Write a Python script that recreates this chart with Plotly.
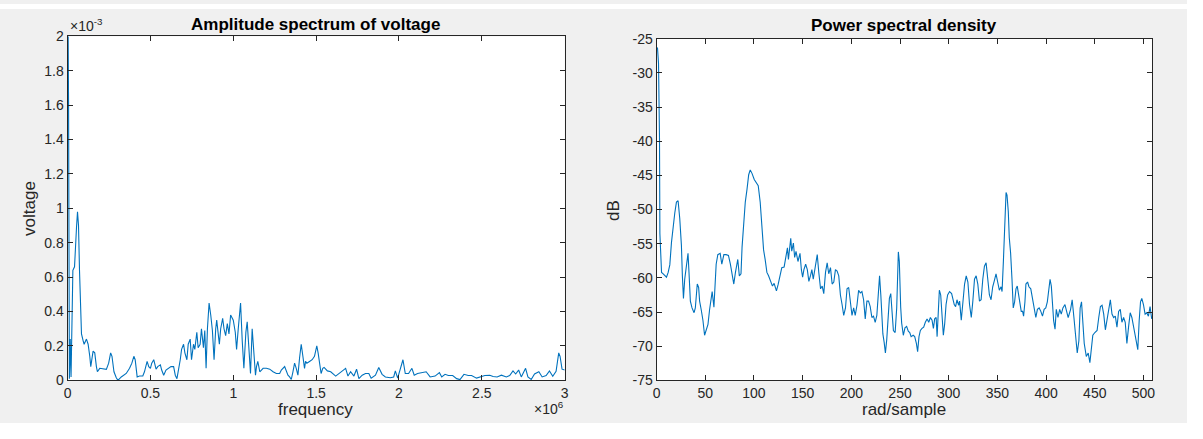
import plotly.graph_objects as go

# ---------------- data: amplitude spectrum (x in 1e6 Hz, y in 1e-3 V) ----------------
amp_freq = [0.000, 0.006, 0.011, 0.016, 0.021, 0.026, 0.032, 0.042, 0.048, 0.054,
            0.060, 0.066, 0.072, 0.078, 0.084, 0.094, 0.100, 0.114, 0.124, 0.134,
            0.140, 0.154, 0.164, 0.174, 0.180, 0.194, 0.214, 0.234, 0.248, 0.260,
            0.268, 0.280, 0.294, 0.304, 0.324, 0.354, 0.374, 0.388, 0.400, 0.408,
            0.420, 0.434, 0.454, 0.464, 0.480, 0.490, 0.500, 0.508, 0.520, 0.534,
            0.544, 0.560, 0.568, 0.580, 0.594, 0.624, 0.640, 0.650, 0.660, 0.668,
            0.680, 0.688, 0.700, 0.708, 0.720, 0.728, 0.740, 0.748, 0.760, 0.768,
            0.774, 0.780, 0.788, 0.800, 0.808, 0.820, 0.828, 0.836, 0.844, 0.854,
            0.864, 0.874, 0.884, 0.888, 0.894, 0.900, 0.908, 0.916, 0.924, 0.936,
            0.944, 0.954, 0.964, 0.974, 0.984, 1.000, 1.012, 1.020, 1.030, 1.036,
            1.044, 1.054, 1.064, 1.076, 1.084, 1.094, 1.104, 1.114, 1.124, 1.134,
            1.140, 1.148, 1.160, 1.180, 1.200, 1.220, 1.240, 1.260, 1.280, 1.290,
            1.310, 1.320, 1.330, 1.340, 1.350, 1.360, 1.370, 1.380, 1.390, 1.400,
            1.410, 1.420, 1.430, 1.436, 1.444, 1.460, 1.476, 1.490, 1.504, 1.512,
            1.520, 1.530, 1.540, 1.548, 1.568, 1.588, 1.618, 1.648, 1.678, 1.692,
            1.708, 1.728, 1.744, 1.758, 1.778, 1.798, 1.818, 1.832, 1.858, 1.878,
            1.898, 1.918, 1.948, 1.968, 1.978, 1.992, 2.004, 2.024, 2.038, 2.058,
            2.078, 2.092, 2.112, 2.138, 2.164, 2.188, 2.218, 2.244, 2.258, 2.278,
            2.298, 2.324, 2.348, 2.368, 2.392, 2.418, 2.438, 2.468, 2.488, 2.518,
            2.548, 2.568, 2.592, 2.618, 2.648, 2.668, 2.688, 2.704, 2.722, 2.738,
            2.764, 2.778, 2.798, 2.818, 2.844, 2.864, 2.888, 2.908, 2.928, 2.948,
            2.964, 2.972, 2.984, 3.000]
amp_volt = [2.60, 1.62, 0.01, 0.24, 0.02, 0.46, 0.64, 0.66, 0.81, 0.89,
            0.98, 0.90, 0.64, 0.42, 0.27, 0.23, 0.21, 0.24, 0.21, 0.14,
            0.08, 0.17, 0.16, 0.08, 0.05, 0.07, 0.065, 0.064, 0.10, 0.16,
            0.14, 0.05, 0.015, 0.00, 0.02, 0.04, 0.07, 0.10, 0.14, 0.12,
            0.02, 0.025, 0.025, 0.05, 0.11, 0.08, 0.07, 0.10, 0.12, 0.065,
            0.08, 0.09, 0.06, 0.03, 0.06, 0.08, 0.08, 0.03, 0.01, 0.05,
            0.12, 0.18, 0.21, 0.16, 0.12, 0.21, 0.24, 0.12, 0.21, 0.18,
            0.23, 0.28, 0.19, 0.21, 0.30, 0.19, 0.29, 0.07, 0.30, 0.45,
            0.38, 0.29, 0.12, 0.21, 0.30, 0.35, 0.27, 0.21, 0.30, 0.36,
            0.30, 0.26, 0.33, 0.27, 0.38, 0.35, 0.28, 0.18, 0.30, 0.38,
            0.45, 0.23, 0.07, 0.28, 0.34, 0.19, 0.04, 0.30, 0.16, 0.03,
            0.08, 0.11, 0.05, 0.07, 0.07, 0.065, 0.05, 0.04, 0.04, 0.06,
            0.08, 0.05, 0.03, 0.02, 0.005, 0.05, 0.10, 0.07, 0.03, 0.13,
            0.21, 0.14, 0.07, 0.11, 0.10, 0.11, 0.12, 0.14, 0.20, 0.16,
            0.10, 0.04, 0.07, 0.075, 0.055, 0.05, 0.025, 0.05, 0.07, 0.025,
            0.05, 0.025, 0.065, 0.01, 0.03, 0.04, 0.04, 0.013, 0.03, 0.075,
            0.035, 0.02, 0.015, 0.02, 0.055, 0.013, 0.05, 0.12, 0.04, 0.04,
            0.07, 0.03, 0.04, 0.045, 0.05, 0.02, 0.025, 0.045, 0.02, 0.035,
            0.028, 0.028, 0.01, 0.005, 0.035, 0.028, 0.028, 0.013, 0.02, 0.028,
            0.03, 0.022, 0.02, 0.03, 0.02, 0.028, 0.055, 0.037, 0.06, 0.02,
            0.07, 0.02, 0.005, 0.037, 0.05, 0.02, 0.028, 0.055, 0.024, 0.052,
            0.16, 0.14, 0.065, 0.06]

# ---------------- data: power spectral density ----------------
psd_x = [0, 1, 2, 3, 3.4, 5.1, 6.8, 10.2, 11.9, 13.6,
         15.3, 17.0, 18.7, 20.4, 22.1, 23.8, 25.5, 26.5, 27.6, 28.9,
         30.6, 32.3, 33.3, 34.7, 36.4, 38.5, 39.8, 41.8, 43.2, 44.2,
         45.9, 47.6, 49.3, 51.0, 52.8, 54.4, 56.1, 57.1, 58.9, 60.2,
         61.2, 62.9, 65.3, 67.0, 69.1, 71.4, 73.8, 75.8, 77.6, 79.3,
         81.0, 83.4, 85.0, 86.7, 87.8, 89.5, 91.1, 92.9, 94.6, 96.2,
         98.0, 100.3, 102.0, 104.4, 106.4, 108.2, 109.9, 111.5, 113.3, 115.0,
         117.3, 119.0, 120.7, 123.1, 124.8, 126.9, 128.6, 131.0, 132.7, 134.4,
         135.4, 136.7, 137.8, 138.8, 140.5, 141.8, 143.2, 145.2, 147.3, 148.7,
         150.0, 151.3, 153.1, 154.8, 156.4, 158.2, 159.5, 160.9, 162.2, 163.6,
         165.0, 166.6, 168.4, 170.1, 171.7, 173.5, 175.2, 176.8, 178.6, 180.3,
         182.0, 183.7, 185.4, 187.1, 188.8, 190.5, 192.2, 194.0, 195.6, 197.3,
         199.0, 200.7, 202.4, 204.0, 205.8, 207.5, 209.2, 210.9, 212.6, 214.3,
         216.0, 217.7, 219.4, 221.1, 222.8, 224.5, 226.2, 228.0, 229.0, 230.3,
         231.3, 232.4, 233.7, 235.0, 236.4, 238.0, 239.1, 240.5, 241.5, 243.2,
         245.0, 246.6, 248.3, 249.3, 250.7, 251.7, 253.4, 255.1, 256.8, 258.5,
         260.0, 261.4, 263.5, 265.1, 266.8, 268.1, 269.5, 270.9, 272.6, 274.3,
         276.0, 277.8, 279.5, 281.2, 282.9, 284.3, 285.6, 287.1, 288.1, 289.4,
         290.4, 291.8, 293.2, 294.5, 295.9, 297.3, 298.9, 300.9, 303.0, 304.4,
         305.7, 307.1, 308.5, 310.2, 311.2, 312.9, 314.6, 316.3, 318.0, 319.7,
         321.4, 323.2, 324.8, 326.5, 328.2, 329.9, 331.6, 333.3, 335.0, 336.7,
         338.4, 340.1, 341.8, 343.5, 345.2, 346.9, 348.6, 350.3, 352.0, 353.8,
         354.8, 356.1, 357.1, 358.2, 358.9, 359.9, 361.2, 362.2, 363.6, 365.0,
         366.3, 367.7, 369.1, 370.4, 371.8, 373.2, 374.5, 375.9, 376.9, 378.3,
         379.3, 381.0, 382.4, 384.3, 386.0, 387.8, 389.5, 391.1, 392.9, 394.6,
         396.3, 398.0, 399.7, 401.3, 403.1, 404.1, 405.4, 406.4, 407.8, 409.2,
         410.5, 412.2, 414.0, 415.6, 417.3, 419.4, 421.1, 422.7, 425.2, 426.8,
         428.6, 430.3, 432.0, 433.7, 435.0, 436.4, 437.8, 439.2, 441.3, 443.3,
         445.0, 446.7, 448.0, 450.1, 452.4, 454.1, 455.8, 457.5, 459.2, 460.9,
         462.6, 464.3, 466.0, 467.7, 469.4, 471.1, 472.8, 474.5, 476.2, 477.9,
         479.6, 481.3, 483.0, 484.7, 486.4, 488.1, 489.8, 491.5, 493.2, 494.2,
         495.6, 497.0, 498.3, 500.0, 501.7, 503.4, 505.1, 506.8, 507.8, 508.5]
psd_db = [-26.2, -26.4, -28.6, -39.5, -53.5, -59.2, -59.4, -59.9, -59.2, -58.1,
          -54.8, -52.1, -50.5, -48.9, -48.7, -51.3, -55.2, -59.7, -63.0, -60.2,
          -57.8, -56.4, -59.2, -63.4, -64.4, -65.1, -64.4, -60.9, -61.4, -63.4,
          -64.7, -66.2, -68.4, -67.5, -66.8, -64.7, -63.0, -62.0, -64.3, -61.2,
          -58.0, -56.6, -56.4, -58.0, -56.6, -56.6, -56.7, -58.0, -59.4, -60.9,
          -59.2, -57.3, -59.7, -59.4, -55.5, -51.3, -48.9, -47.0, -44.9, -44.2,
          -44.7, -45.6, -46.0, -46.5, -48.9, -52.1, -55.9, -57.3, -59.2, -59.7,
          -60.5, -61.2, -60.8, -61.9, -61.0, -59.4, -58.5, -58.4, -56.8, -55.6,
          -57.3, -55.9, -54.2, -56.1, -54.9, -57.0, -56.1, -57.6, -56.4, -58.8,
          -59.9, -58.8, -58.0, -58.8, -60.5, -59.6, -58.8, -60.2, -58.8, -57.8,
          -56.6, -59.2, -61.6, -61.2, -62.3, -59.2, -57.8, -59.4, -58.5, -60.9,
          -60.6, -58.8, -59.0, -59.7, -62.5, -63.9, -65.5, -64.4, -61.6, -61.4,
          -63.4, -65.5, -64.4, -65.5, -64.0, -61.8, -62.2, -62.0, -63.2, -66.0,
          -63.4, -63.4, -64.2, -65.8, -65.6, -66.5, -65.5, -61.8, -59.7, -62.5,
          -65.8, -68.2, -69.4, -71.0, -69.0, -66.2, -63.0, -62.3, -64.4, -67.7,
          -68.0, -64.4, -56.2, -57.6, -64.3, -66.6, -68.4, -67.3, -67.1, -67.8,
          -68.0, -68.6, -68.4, -68.6, -69.6, -70.8, -68.6, -67.7, -67.4, -67.2,
          -66.5, -66.0, -66.5, -65.8, -66.2, -67.4, -66.0, -65.8, -68.6, -65.3,
          -61.8, -62.5, -65.3, -68.4, -66.7, -63.9, -62.5, -62.0, -62.3, -63.0,
          -63.9, -64.2, -63.2, -64.0, -63.4, -66.2, -63.4, -60.9, -59.7, -60.6,
          -63.9, -65.8, -63.4, -60.2, -59.7, -60.9, -63.4, -63.2, -60.2, -58.3,
          -57.8, -60.2, -62.5, -63.2, -61.3, -60.4, -59.4, -60.6, -61.8, -61.3,
          -62.0, -57.8, -54.9, -50.3, -47.5, -47.9, -50.3, -54.1, -56.4, -60.2,
          -64.4, -63.5, -61.6, -61.2, -62.3, -63.9, -64.9, -64.9, -65.6, -63.5,
          -60.9, -60.6, -61.3, -61.6, -62.8, -64.4, -65.8, -64.6, -64.4, -64.9,
          -65.6, -64.6, -64.4, -63.5, -61.6, -60.2, -61.2, -64.0, -66.3, -67.5,
          -64.6, -65.8, -64.6, -65.3, -64.4, -63.9, -64.9, -65.8, -64.6, -63.2,
          -65.8, -68.2, -71.0, -69.2, -64.4, -63.5, -66.3, -69.6, -71.5, -71.0,
          -72.4, -69.6, -68.4, -68.0, -67.7, -65.8, -64.2, -64.0, -65.3, -67.6,
          -66.2, -64.9, -63.2, -65.3, -65.8, -65.6, -67.2, -64.9, -64.6, -66.5,
          -65.8, -66.5, -69.6, -67.2, -65.1, -65.8, -67.2, -68.6, -69.6, -70.5,
          -66.3, -63.5, -63.0, -63.9, -65.3, -65.1, -65.6, -64.2, -65.3, -66.0]

amp_xticks = [0, 0.5, 1, 1.5, 2, 2.5, 3]
amp_xticktext = ["0", "0.5", "1", "1.5", "2", "2.5", "3"]
amp_yticks = [0, 0.2, 0.4, 0.6, 0.8, 1.0, 1.2, 1.4, 1.6, 1.8, 2.0]
amp_yticktext = ["0", "0.2", "0.4", "0.6", "0.8", "1", "1.2", "1.4", "1.6", "1.8", "2"]
psd_xticks = [0, 50, 100, 150, 200, 250, 300, 350, 400, 450, 500]
psd_yticks = [-75, -70, -65, -60, -55, -50, -45, -40, -35, -30, -25]
psd_yticktext = ["-75", "-70", "-65", "-60", "-55", "-50", "-45", "-40", "-35", "-30", "-25"]

# ---------------- layout helpers ----------------
# The page keeps an 8px body margin, so the figure is sized to fit inside it
# and positions are given in window pixels (offset by that margin).
OFF = 8
W, H = 1203 - 2 * OFF, 439 - 2 * OFF
FONT = "Liberation Sans, Arial, Helvetica, sans-serif"
TXT = "#262626"
LINE = "#0072BD"


def px(x):
    return (x - OFF) / W


def py(y):
    return 1 - (y - OFF) / H


fig = go.Figure()
fig.add_trace(go.Scatter(x=amp_freq, y=amp_volt, mode="lines",
                         line=dict(color=LINE, width=1.1), xaxis="x", yaxis="y",
                         showlegend=False, hoverinfo="skip"))
fig.add_trace(go.Scatter(x=psd_x, y=psd_db, mode="lines",
                         line=dict(color=LINE, width=1.1), xaxis="x2", yaxis="y2",
                         showlegend=False, hoverinfo="skip"))

axis_common = dict(showline=True, linecolor=TXT, linewidth=1, mirror="ticks",
                   ticks="inside", ticklen=5, tickcolor=TXT, tickwidth=1,
                   showgrid=False, zeroline=False,
                   tickfont=dict(family=FONT, size=14, color=TXT))

fig.update_layout(
    width=W, height=H,
    margin=dict(l=0, r=0, t=0, b=0),
    paper_bgcolor="#f0f0f0", plot_bgcolor="white",
    xaxis=dict(domain=[px(72), px(572.5)], range=[0, 3], tickvals=amp_xticks,
               ticktext=amp_xticktext, anchor="y", **axis_common),
    yaxis=dict(domain=[py(395), py(37.5)], range=[0, 2], tickvals=amp_yticks,
               ticktext=amp_yticktext, anchor="x", **axis_common),
    xaxis2=dict(domain=[px(665), px(1164)], range=[0, 509], tickvals=psd_xticks,
                anchor="y2", **axis_common),
    yaxis2=dict(domain=[py(395), py(40)], range=[-75, -25], tickvals=psd_yticks,
                ticktext=psd_yticktext, anchor="x2", **axis_common),
    shapes=[
        dict(type="rect", xref="paper", yref="paper", x0=-0.01, x1=1.01, y0=py(9), y1=1.01,
             fillcolor="white", line=dict(width=0), layer="below"),
    ],
)

ann = []
ann.append(dict(text="<b>Amplitude spectrum of voltage</b>", x=px(322), y=py(25),
                xanchor="center", yanchor="middle", font=dict(size=17, color="black")))
ann.append(dict(text="<b>Power spectral density</b>", x=px(914), y=py(26),
                xanchor="center", yanchor="middle", font=dict(size=17, color="black")))
ann.append(dict(text="voltage", x=px(33), y=py(216), textangle=-90,
                xanchor="center", yanchor="middle", font=dict(size=17, color=TXT)))
ann.append(dict(text="dB", x=px(621), y=py(218), textangle=-90,
                xanchor="center", yanchor="middle", font=dict(size=17, color=TXT)))
ann.append(dict(text="frequency", x=px(322), y=py(425),
                xanchor="center", yanchor="middle", font=dict(size=17, color=TXT)))
ann.append(dict(text="rad/sample", x=px(914), y=py(425),
                xanchor="center", yanchor="middle", font=dict(size=17, color=TXT)))
ann.append(dict(text="×10<sup>-3</sup>", x=px(72), y=py(37),
                xanchor="left", yanchor="bottom", font=dict(size=14, color=TXT)))
ann.append(dict(text="×10<sup>6</sup>", x=px(574), y=py(424),
                xanchor="right", yanchor="middle", font=dict(size=14, color=TXT)))
for a in ann:
    a.update(xref="paper", yref="paper", showarrow=False)
    a["font"]["family"] = FONT
fig.update_layout(annotations=ann)

fig.write_html("out.html")
